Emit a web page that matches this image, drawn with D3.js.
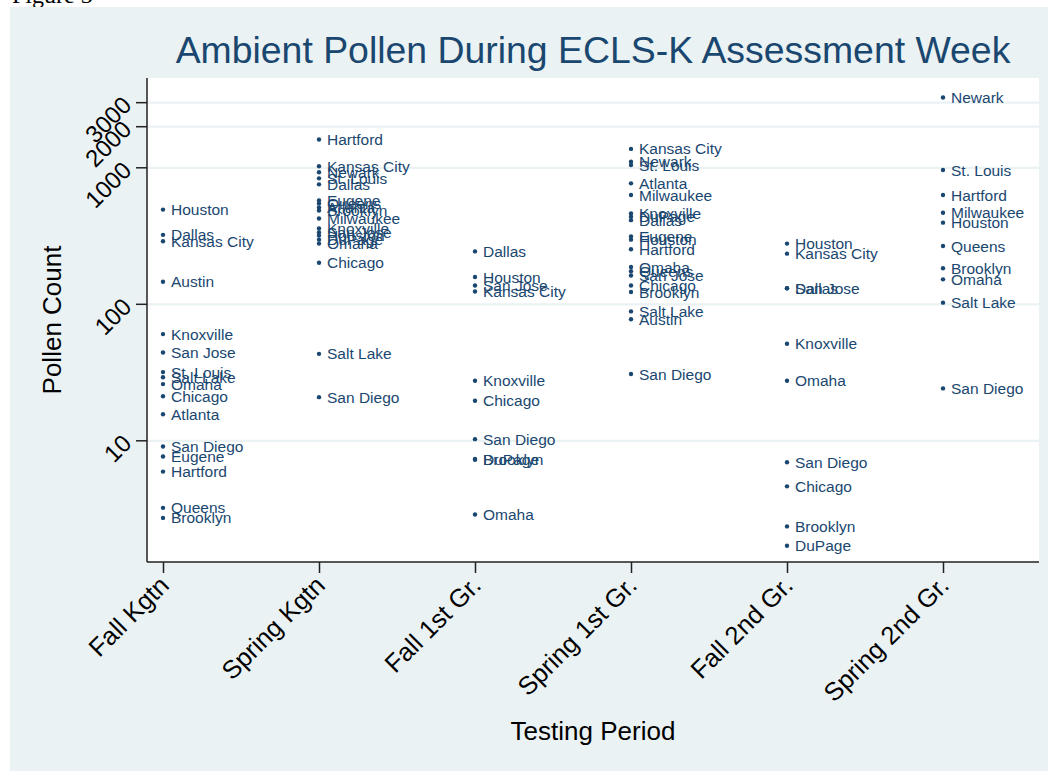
<!DOCTYPE html>
<html><head><meta charset="utf-8">
<script src="https://cdn.jsdelivr.net/npm/d3@7"></script>
<style>
body{margin:0;background:#fff}
text{font-family:"Liberation Sans",Arial,Helvetica,sans-serif}
</style>
</head><body>
<svg id="c" width="1053" height="771"></svg>
<script>
// ---- data ----
const periods = ["Fall Kgtn","Spring Kgtn","Fall 1st Gr.","Spring 1st Gr.","Fall 2nd Gr.","Spring 2nd Gr."];

const fallKgtnCities = ["Houston","Dallas","Kansas City","Austin","Knoxville","San Jose","St. Louis","Salt Lake","Omaha","Chicago","Atlanta","San Diego","Eugene","Hartford","Queens","Brooklyn"];
const fallKgtnPollen = [490,320,287,145,60,44,31.6,29,25.8,21,15.5,9,7.6,5.9,3.2,2.7];

const springKgtnCities = ["Hartford","Kansas City","Newark","St. Louis","Dallas","Eugene","Queens","Atlanta","Brooklyn","Milwaukee","Knoxville","San Jose","Houston","DuPage","Omaha","Chicago","Salt Lake","San Diego"];
const springKgtnPollen = [1600,1017,919,830,750,572,544,508,483,422,356,333,316,295,276,200,43,20.7];

const fall1stCities = ["Dallas","Houston","San Jose","Kansas City","Knoxville","Chicago","San Diego","DuPage","Brooklyn","Omaha"];
const fall1stPollen = [242,157,136,123,27.3,19.5,10.2,7.3,7.2,2.86];

const spring1stCities = ["Kansas City","Newark","St. Louis","Atlanta","Milwaukee","Knoxville","DuPage","Dallas","Eugene","Houston","Hartford","Omaha","Queens","San Jose","Chicago","Brooklyn","Salt Lake","Austin","San Diego"];
const spring1stPollen = [1364,1100,1040,763,626,459,434,410,311,295,251,186,173,161,136,122,88,77,30.6];

const fall2ndCities = ["Houston","Kansas City","Dallas","San Jose","Knoxville","Omaha","San Diego","Chicago","Brooklyn","DuPage"];
const fall2ndPollen = [276,233,130,130,51,27.3,6.9,4.6,2.34,1.69];

const spring2ndCities = ["Newark","St. Louis","Hartford","Milwaukee","Houston","Queens","Brooklyn","Omaha","Salt Lake","San Diego"];
const spring2ndPollen = [3250,955,627,465,393,265,182,151,102,24];

const yTickValues = [10,100,1000,2000,3000];

const seriesCities = [fallKgtnCities, springKgtnCities, fall1stCities, spring1stCities, fall2ndCities, spring2ndCities];
const seriesPollen = [fallKgtnPollen, springKgtnPollen, fall1stPollen, spring1stPollen, fall2ndPollen, spring2ndPollen];

const points = [];
periods.forEach((p, i) => {
  seriesCities[i].forEach((c, j) => points.push({period: p, city: c, value: seriesPollen[i][j]}));
});

// ---- layout ----
const W = 1053, H = 771;
const plot = {left: 147, right: 1039, top: 78, bottom: 562};
const navy = "#1A476F", bg = "#EAF2F3";

const svg = d3.select("#c");

// caption fragment at very top
svg.append("text").attr("x", 12).attr("y", 3)
  .style("font-family", "'Liberation Serif','Times New Roman',serif")
  .style("font-size", "24px").attr("fill", "#000").text("Figure 3");

svg.append("rect").attr("x", 10).attr("y", 7).attr("width", 1038).attr("height", H - 7).attr("fill", bg);
svg.append("rect").attr("x", plot.left).attr("y", plot.top)
  .attr("width", plot.right - plot.left).attr("height", plot.bottom - plot.top).attr("fill", "#fff");

const x = d3.scalePoint().domain(periods).range([163, 943]);
const y = d3.scaleLog().domain([10, 1000]).range([440.3, 167.3]);

// gridlines
const grid = svg.append("g").attr("transform", `translate(${plot.left},0)`)
  .call(d3.axisLeft(y).tickValues(yTickValues).tickSize(-(plot.right - plot.left)).tickFormat(""));
grid.select(".domain").remove();
grid.selectAll("line").attr("stroke", bg).attr("stroke-width", 2.2);

// y axis
const ya = svg.append("g").attr("transform", `translate(${plot.left},0)`)
  .call(d3.axisLeft(y).tickValues(yTickValues).tickSize(11).tickFormat(d3.format("d")));
ya.select(".domain").attr("d", `M0,${plot.top}V${plot.bottom}`).attr("stroke", "#222").attr("stroke-width", 1.5);
ya.selectAll(".tick line").attr("stroke", "#222").attr("stroke-width", 1.5);
ya.selectAll(".tick text")
  .attr("x", null).attr("dy", null)
  .attr("transform", "translate(-14,4) rotate(-45)")
  .attr("text-anchor", "end")
  .style("font-size", "24px").attr("fill", "#000");

// x axis
const xa = svg.append("g").attr("transform", `translate(0,${plot.bottom})`)
  .call(d3.axisBottom(x).tickSize(11));
xa.select(".domain").attr("d", `M${plot.left},0H${plot.right}`).attr("stroke", "#222").attr("stroke-width", 1.5);
xa.selectAll(".tick line").attr("stroke", "#222").attr("stroke-width", 1.5);
xa.selectAll(".tick text")
  .attr("y", null).attr("dy", null)
  .attr("transform", "translate(7,25) rotate(-45)")
  .attr("text-anchor", "end")
  .style("font-size", "25.5px").attr("fill", "#000");

// points and labels
const g = svg.append("g");
g.selectAll("circle").data(points).join("circle")
  .attr("cx", d => x(d.period)).attr("cy", d => y(d.value)).attr("r", 2.2).attr("fill", navy);
g.selectAll("text").data(points).join("text")
  .attr("x", d => x(d.period) + 8).attr("y", d => y(d.value)).attr("dy", "0.36em")
  .style("font-size", "15.5px").attr("fill", navy).text(d => d.city);

// titles
svg.append("text").attr("x", (plot.left + plot.right) / 2).attr("y", 63)
  .attr("text-anchor", "middle").style("font-size", "37.4px").attr("fill", navy)
  .text("Ambient Pollen During ECLS-K Assessment Week");
svg.append("text").attr("transform", `translate(61,${(plot.top + plot.bottom) / 2}) rotate(-90)`)
  .attr("text-anchor", "middle").style("font-size", "26px").attr("fill", "#000").text("Pollen Count");
svg.append("text").attr("x", (plot.left + plot.right) / 2).attr("y", 740)
  .attr("text-anchor", "middle").style("font-size", "26px").attr("fill", "#000").text("Testing Period");
</script>
</body></html>
